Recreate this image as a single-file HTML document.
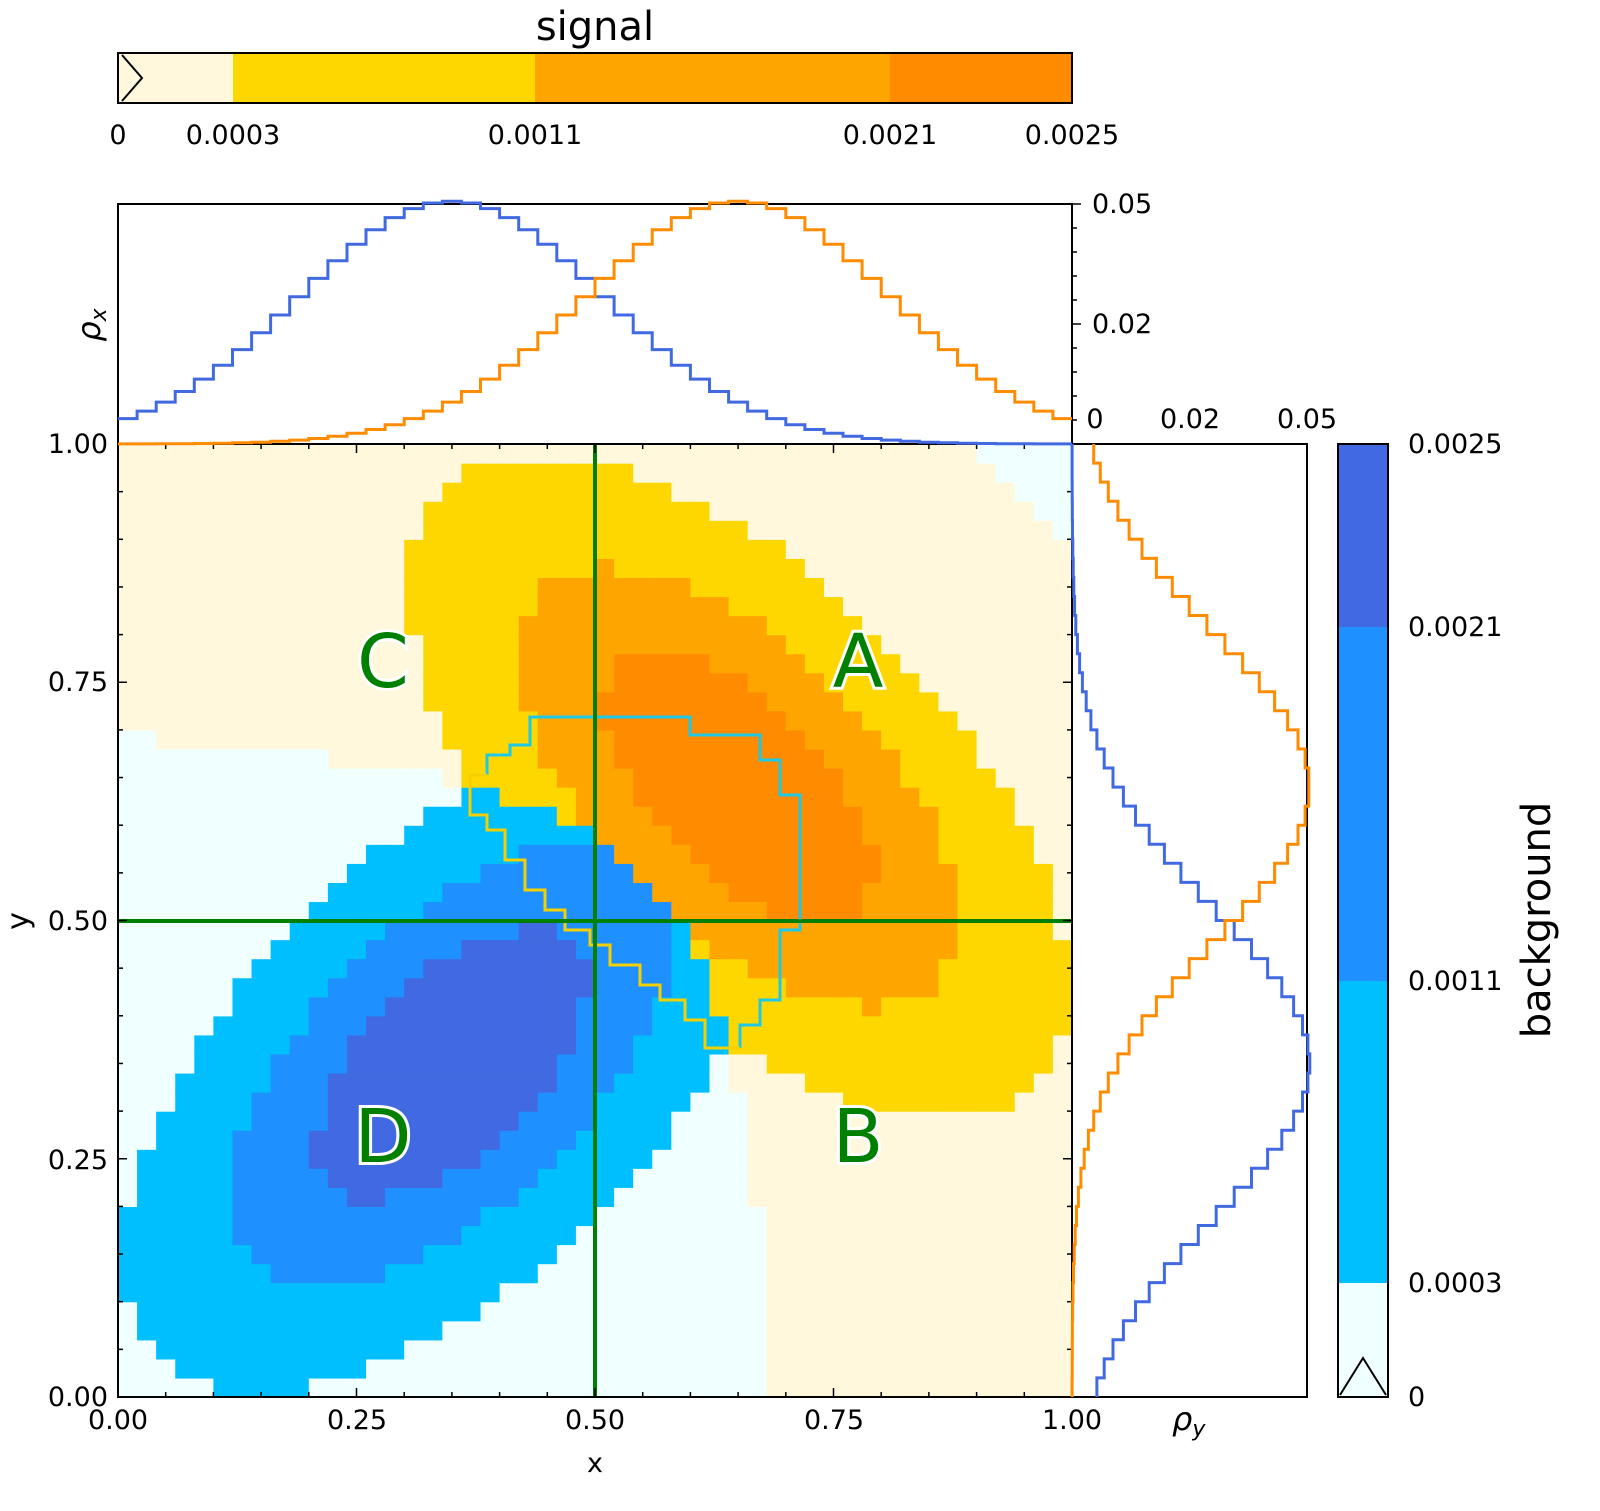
<!DOCTYPE html>
<html><head><meta charset="utf-8">
<style>
html,body{margin:0;padding:0;background:#fff;}
svg{display:block;font-family:"DejaVu Sans","Liberation Sans",sans-serif;}
</style></head>
<body>
<svg id="s" width="1600" height="1511" viewBox="0 0 1600 1511" xmlns="http://www.w3.org/2000/svg">
<g id="heat"></g>
<path d="M487,775 L487,755 L510,755 L510,745 L530,745 L530,717 L585,717 L690,717 L690,735 L760,735 L760,760 L780,760 L780,795 L800,795 L800,930 L780,930 L780,1000 L760,1000 L760,1025 L740,1025 L740,1048" fill="none" stroke="#1ec8e8" stroke-width="3"/>
<path d="M740,1048 L705,1048 L705,1020 L685,1020 L685,1000 L660,1000 L660,985 L640,985 L640,965 L610,965 L610,945 L590,945 L590,930 L565,930 L565,910 L545,910 L545,890 L525,890 L525,860 L505,860 L505,830 L487,830 L487,815 L470,815 L470,775 L487,775" fill="none" stroke="#f5d000" stroke-width="3"/>
<line x1="595" y1="444" x2="595" y2="1397" stroke="#008000" stroke-width="4"/>
<line x1="118" y1="921" x2="1072" y2="921" stroke="#008000" stroke-width="4"/>
<g font-size="74" fill="#008000" stroke="#fff" stroke-width="6" paint-order="stroke" text-anchor="middle" font-family="DejaVu Sans, sans-serif">
<text x="858" y="687">A</text><text x="858" y="1162">B</text><text x="383" y="687">C</text><text x="383" y="1162">D</text>
</g>
<rect x="118" y="444" width="954" height="953" fill="none" stroke="#000" stroke-width="2"/>
<g id="ticks" stroke="#000" stroke-width="1.5"></g>
<rect x="118" y="204" width="954" height="240" fill="none" stroke="#000" stroke-width="2"/>
<rect x="1072" y="444" width="235" height="953" fill="none" stroke="#000" stroke-width="2"/>
<g id="marg"></g>
<rect x="118" y="53" width="115" height="50" fill="#fff8dc"/>
<rect x="233" y="53" width="302" height="50" fill="#ffd700"/>
<rect x="535" y="53" width="355" height="50" fill="#ffa500"/>
<rect x="890" y="53" width="182" height="50" fill="#ff8c00"/>
<rect x="118" y="53" width="954" height="50" fill="none" stroke="#000" stroke-width="2"/>
<polyline points="122,55 142,78 122,101" fill="none" stroke="#000" stroke-width="2"/>
<text x="595" y="40" font-size="40" text-anchor="middle">signal</text>
<g font-size="27" text-anchor="middle">
<text x="118" y="144">0</text><text x="233" y="144">0.0003</text><text x="535" y="144">0.0011</text><text x="890" y="144">0.0021</text><text x="1072" y="144">0.0025</text>
</g>
<rect x="1338" y="444" width="50" height="183" fill="#4169e1"/>
<rect x="1338" y="627" width="50" height="354" fill="#1e90ff"/>
<rect x="1338" y="981" width="50" height="302" fill="#00bfff"/>
<rect x="1338" y="1283" width="50" height="114" fill="#f0ffff"/>
<rect x="1338" y="444" width="50" height="953" fill="none" stroke="#000" stroke-width="2"/>
<polyline points="1340,1395 1363,1358 1386,1395" fill="none" stroke="#000" stroke-width="2"/>
<g font-size="27">
<text x="1408" y="453">0.0025</text><text x="1408" y="636">0.0021</text><text x="1408" y="990">0.0011</text><text x="1408" y="1292">0.0003</text><text x="1408" y="1406">0</text>
</g>
<text transform="translate(1550,920) rotate(-90)" font-size="40" text-anchor="middle">background</text>
<g font-size="27" text-anchor="end">
<text x="108" y="453">1.00</text><text x="108" y="691">0.75</text><text x="108" y="930">0.50</text><text x="108" y="1169">0.25</text><text x="108" y="1406">0.00</text>
</g>
<g font-size="27" text-anchor="middle">
<text x="118" y="1429">0.00</text><text x="357" y="1429">0.25</text><text x="595" y="1429">0.50</text><text x="834" y="1429">0.75</text><text x="1072" y="1429">1.00</text>
<text x="595" y="1472">x</text>
<text x="1095" y="428">0</text><text x="1190" y="428">0.02</text><text x="1307" y="428">0.05</text>
</g>
<g font-size="27">
<text x="1092" y="213">0.05</text><text x="1092" y="333">0.02</text>
</g>
<text transform="translate(28,921) rotate(-90)" font-size="30" text-anchor="middle">y</text>
<text transform="translate(100,325) rotate(-90)" font-size="32" text-anchor="middle" font-style="italic">ρ<tspan font-size="22" dy="6">x</tspan></text>
<text x="1172" y="1430" font-size="32" font-style="italic">ρ<tspan font-size="22" dy="6">y</tspan></text>
</svg>
<script>
(function(){
var NS="http://www.w3.org/2000/svg",N=50,x0=118,y1=1397,W=954,H=953,cw=W/N,ch=H/N;
function g(x,y,mx,my,s,r){var dx=(x-mx)/s,dy=(y-my)/s,q=(dx*dx-2*r*dx*dy+dy*dy)/(1-r*r);return 0.0004*Math.exp(-q/2)/(2*Math.PI*s*s*Math.sqrt(1-r*r));}
function el(t,a,p){var e=document.createElementNS(NS,t);for(var k in a)e.setAttribute(k,a[k]);p.appendChild(e);return e;}
var heat=document.getElementById('heat');
for(var i=0;i<N;i++)for(var j=0;j<N;j++){
var x=(i+.5)/N,y=(j+.5)/N;
var s=g(x,y,0.65,0.64,0.16,-0.6),b=g(x,y,0.35,0.35,0.16,0.6),c;
if(s>=b){c=s<0.0003?'#fff8dc':s<0.0011?'#ffd700':s<0.0021?'#ffa500':'#ff8c00';}
else{c=b<0.0003?'#f0ffff':b<0.0011?'#00bfff':b<0.0021?'#1e90ff':'#4169e1';}
el('rect',{x:(x0+i*cw).toFixed(2),y:(y1-(j+1)*ch).toFixed(2),width:(cw+0.6).toFixed(2),height:(ch+0.6).toFixed(2),fill:c},heat);}
function marg(m,s){var a=[],t=0;for(var i=0;i<N;i++){var x=(i+.5)/N;var v=Math.exp(-0.5*Math.pow((x-m)/s,2));a.push(v);t+=v;}return a.map(function(v){return v/t;});}
var mg=document.getElementById('marg');
function top(arr,col){var d='M118,'+(444-arr[0]*4800).toFixed(1);for(var i=0;i<N;i++){var yy=(444-arr[i]*4800).toFixed(1);d+=' L'+(x0+i*cw).toFixed(1)+','+yy+' L'+(x0+(i+1)*cw).toFixed(1)+','+yy;}el('path',{d:d,fill:'none',stroke:col,'stroke-width':3},mg);}
function right(arr,col){var d='';for(var j=0;j<N;j++){var xx=(1072+arr[j]*4700).toFixed(1);d+=(j?' L':'M')+xx+','+(y1-j*ch).toFixed(1)+' L'+xx+','+(y1-(j+1)*ch).toFixed(1);}el('path',{d:d,fill:'none',stroke:col,'stroke-width':3},mg);}
top(marg(0.35,0.16),'#4169e1');top(marg(0.65,0.16),'#ff8c00');
right(marg(0.35,0.16),'#4169e1');right(marg(0.64,0.16),'#ff8c00');
var tk=document.getElementById('ticks');
for(var k=0;k<=20;k++){var L=(k%5==0)?9:5;var xx=x0+k*W/20,yy=y1-k*H/20;
el('line',{x1:xx,y1:1397,x2:xx,y2:1397-L},tk);el('line',{x1:xx,y1:444,x2:xx,y2:444+L},tk);
el('line',{x1:118,y1:yy,x2:118+L,y2:yy},tk);el('line',{x1:1072,y1:yy,x2:1072-L,y2:yy},tk);}
[204,228,252,276,300,324,348,372,396,420].forEach(function(y,i){el('line',{x1:1072,y1:y,x2:1072+(i==0||i==5?9:5),y2:y},tk);});
})();
</script>
</body></html>
